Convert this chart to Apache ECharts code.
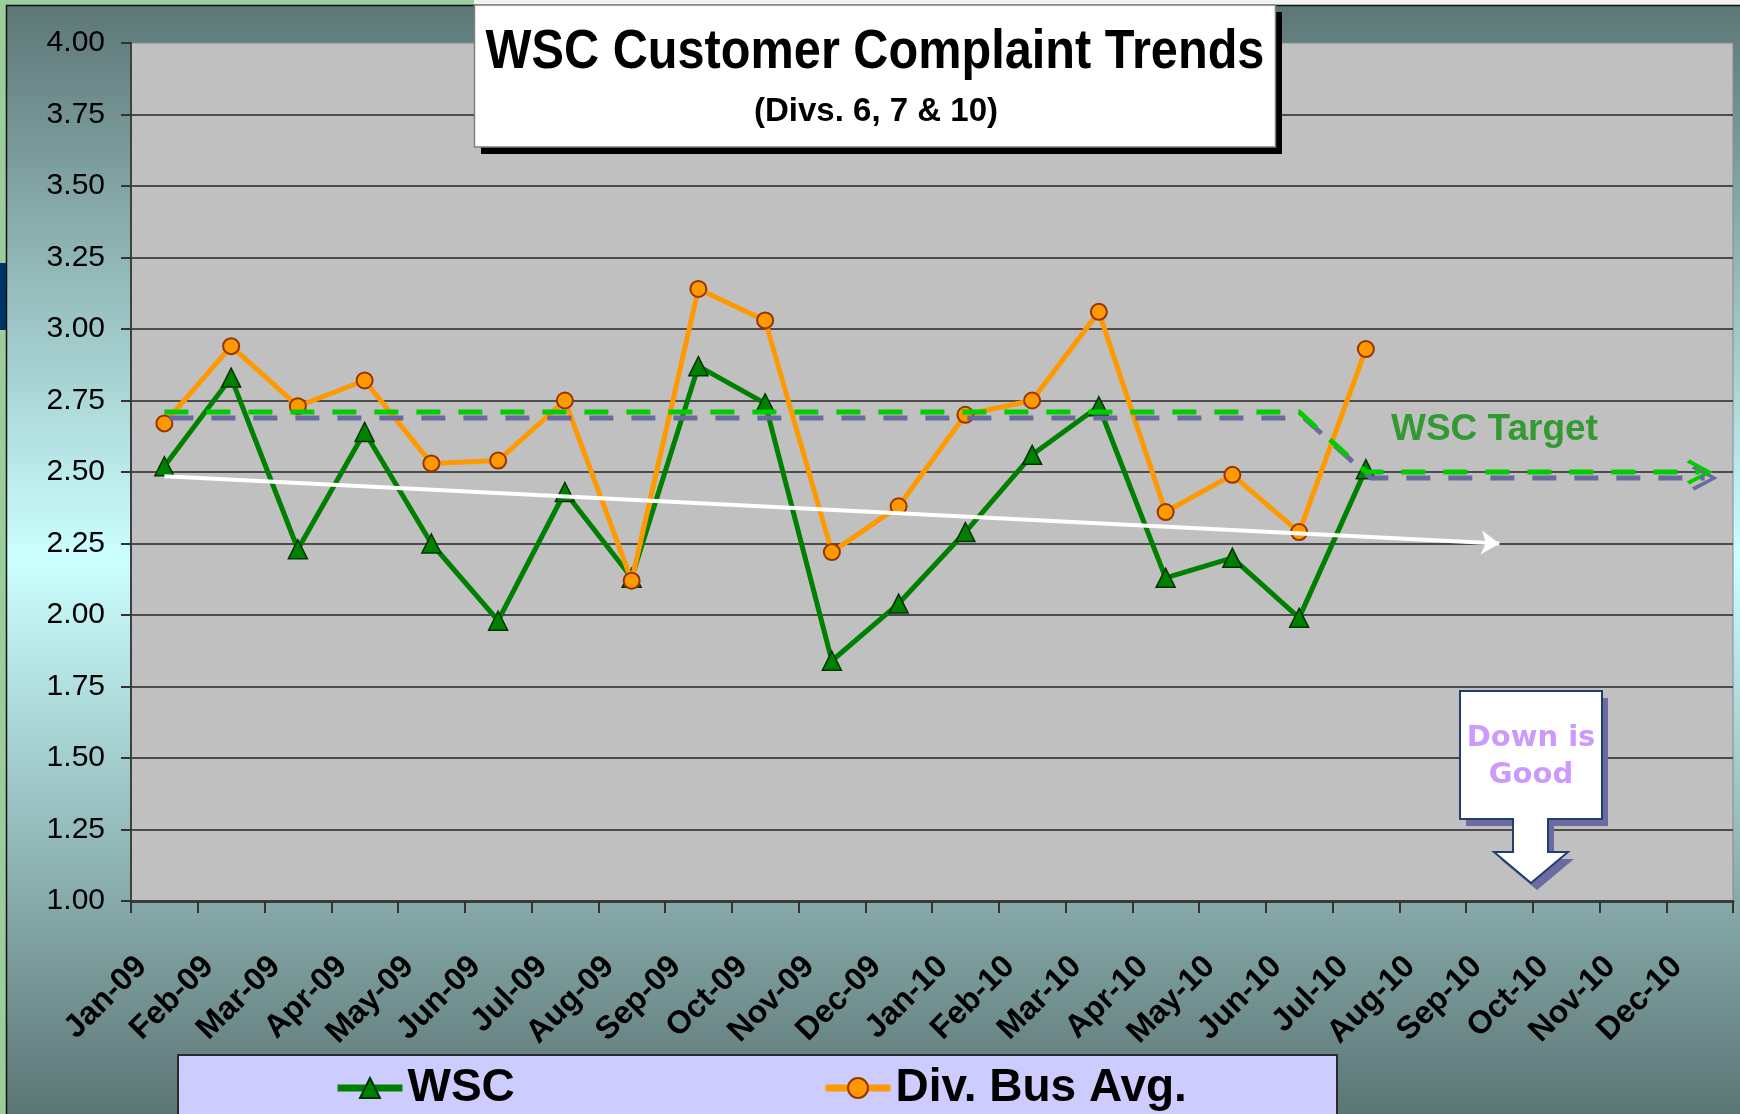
<!DOCTYPE html>
<html>
<head>
<meta charset="utf-8">
<title>WSC Customer Complaint Trends</title>
<script src="https://cdn.jsdelivr.net/npm/echarts@6/dist/echarts.min.js"></script>
<style>
  html, body { margin: 0; padding: 0; background: #fff; }
  #chart { width: 1740px; height: 1114px; }
</style>
</head>
<body>
<div id="chart"></div>
<script>
// month categories, Jan-09 .. Dec-10
const months = [
  'Jan-09', 'Feb-09', 'Mar-09', 'Apr-09', 'May-09', 'Jun-09',
  'Jul-09', 'Aug-09', 'Sep-09', 'Oct-09', 'Nov-09', 'Dec-09',
  'Jan-10', 'Feb-10', 'Mar-10', 'Apr-10', 'May-10', 'Jun-10',
  'Jul-10', 'Aug-10', 'Sep-10', 'Oct-10', 'Nov-10', 'Dec-10'
];

// complaint rates (only up to Jul-10 reported)
const wscValues = [
  2.52, 2.83, 2.23, 2.64, 2.25, 1.98, 2.43, 2.13, 2.87, 2.74, 1.84, 2.04,
  2.29, 2.56, 2.73, 2.13, 2.20, 1.99, 2.51, null, null, null, null, null
];
const divAvgValues = [
  2.67, 2.94, 2.73, 2.82, 2.53, 2.54, 2.75, 2.12, 3.14, 3.03, 2.22, 2.38,
  2.70, 2.75, 3.06, 2.36, 2.49, 2.29, 2.93, null, null, null, null, null
];

// target: 2.71 through Jun-10, then 2.50
const targetValues = [
  2.71, 2.71, 2.71, 2.71, 2.71, 2.71, 2.71, 2.71, 2.71, 2.71, 2.71, 2.71,
  2.71, 2.71, 2.71, 2.71, 2.71, 2.71, 2.50, 2.50, 2.50, 2.50, 2.50, 2.50
];

// white trend arrow
const trendStart = ['Jan-09', 2.485];
const trendEnd = ['Sep-10', 2.25];

// y axis scale
const yMin = 1;
const yMax = 4;
const yStep = 0.25;

const FONT = '"Liberation Sans", Arial, sans-serif';
const chevron = 'path://M0,3 L3,0 L26,12.5 L3,25 L0,22 L19,12.5 Z';

const chart = echarts.init(document.getElementById('chart'));

const option = {
  animation: false,
  backgroundColor: {
    type: 'linear', x: 0, y: 0, x2: 0, y2: 1,
    colorStops: [
      { offset: 0, color: '#5c7575' },
      { offset: 0.5, color: '#ccffff' },
      { offset: 1, color: '#5c7575' }
    ]
  },
  grid: {
    left: 131, right: 7, top: 43, bottom: 213,
    show: true,
    backgroundColor: '#c0c0c0',
    borderColor: '#8a8a8a',
    borderWidth: 1
  },
  legend: [
    {
      data: ['WSC'],
      left: 334, top: 1065, padding: 0,
      itemWidth: 65, itemHeight: 25,
      lineStyle: { width: 7 },
      textStyle: { fontSize: 46, fontWeight: 'bold', color: '#000', fontFamily: FONT, lineHeight: 46 }
    },
    {
      data: ['Div. Bus Avg.'],
      left: 822, top: 1065, padding: 0,
      itemWidth: 65, itemHeight: 25,
      lineStyle: { width: 7 },
      textStyle: { fontSize: 46, fontWeight: 'bold', color: '#000', fontFamily: FONT, lineHeight: 46 }
    }
  ],
  xAxis: {
    type: 'category',
    data: months,
    boundaryGap: true,
    axisLine: { lineStyle: { color: '#3a3a3a', width: 3 } },
    axisTick: { show: true, length: 12, lineStyle: { color: '#333', width: 2 } },
    axisLabel: {
      interval: 0,
      rotate: 45,
      margin: 38,
      padding: [0, 32, 0, 0],
      color: '#000',
      fontSize: 32,
      fontWeight: 'bold',
      fontFamily: FONT
    },
    splitLine: { show: false }
  },
  yAxis: {
    type: 'value',
    min: yMin,
    max: yMax,
    interval: yStep,
    axisLine: { show: true, lineStyle: { color: '#404040', width: 2 } },
    axisTick: { show: true, length: 10, lineStyle: { color: '#333', width: 2 } },
    axisLabel: {
      margin: 26,
      color: '#000',
      fontSize: 30,
      fontFamily: FONT,
      formatter: v => v.toFixed(2)
    },
    splitLine: { showMaxLine: false, lineStyle: { color: '#262626', width: 1.5 } }
  },
  series: [
    {
      name: 'WSC',
      type: 'line',
      data: wscValues,
      symbol: 'triangle',
      symbolSize: 19,
      lineStyle: { color: '#008000', width: 5 },
      itemStyle: { color: '#008000', borderColor: '#003300', borderWidth: 1.5 },
      z: 3
    },
    {
      name: 'Div. Bus Avg.',
      type: 'line',
      data: divAvgValues,
      symbol: 'circle',
      symbolSize: 16,
      lineStyle: { color: '#ff9900', width: 5 },
      itemStyle: { color: '#ff9900', borderColor: '#993300', borderWidth: 2 },
      z: 4
    },
    {
      name: 'WSC Target',
      type: 'line',
      data: targetValues,
      symbol: 'none',
      silent: true,
      lineStyle: {
        color: '#00cc00', width: 5, type: [24, 18],
        shadowColor: '#6a6a9e', shadowOffsetX: 5, shadowOffsetY: 6, shadowBlur: 0
      },
      markPoint: {
        silent: true,
        symbol: chevron,
        symbolSize: [26, 25],
        label: { show: false },
        itemStyle: { color: '#00cc00', shadowColor: '#6a6a9e', shadowOffsetX: 5, shadowOffsetY: 6, shadowBlur: 0 },
        data: [{ coord: [months[months.length - 1], targetValues[targetValues.length - 1]] }]
      },
      z: 5
    },
    {
      name: 'Trend',
      type: 'lines',
      coordinateSystem: 'cartesian2d',
      silent: true,
      symbol: ['none', 'arrow'],
      symbolSize: 18,
      lineStyle: { color: '#ffffff', width: 4, opacity: 1, curveness: 0 },
      data: [{ coords: [trendStart, trendEnd] }],
      z: 6
    }
  ],
  graphic: [
    // slide frame bits
    { type: 'rect', shape: { x: 0, y: 0, width: 6, height: 1114 }, style: { fill: '#9ccc9c' }, z: 0 },
    { type: 'rect', shape: { x: 0, y: 0, width: 474, height: 5 }, style: { fill: '#9ccc9c' }, z: 0 },
    { type: 'rect', shape: { x: 474, y: 0, width: 1266, height: 5 }, style: { fill: '#f2f2f2' }, z: 0 },
    { type: 'rect', shape: { x: 0, y: 263, width: 6, height: 67 }, style: { fill: '#003366' }, z: 0 },
    { type: 'polyline', shape: { points: [[6.5, 1114], [6.5, 5.5], [1740, 5.5]] }, style: { stroke: '#111', lineWidth: 1.5, fill: null }, z: 0 },

    // legend box
    { type: 'rect', shape: { x: 178, y: 1055, width: 1159, height: 60 }, style: { fill: '#ccccff', stroke: '#2a2a2a', lineWidth: 2 }, z: 1 },

    // title box
    {
      type: 'group', z: 100,
      children: [
        { type: 'rect', z: 100, shape: { x: 481, y: 12, width: 801, height: 142 }, style: { fill: '#000' } },
        { type: 'rect', z: 101, shape: { x: 474.5, y: 5, width: 801, height: 142 }, style: { fill: '#fff', stroke: '#7f7f7f', lineWidth: 1.5 } },
        {
          type: 'text', z: 102, x: 875, y: 53, scaleX: 0.885,
          style: {
            text: 'WSC Customer Complaint Trends', x: 0, y: 0,
            textAlign: 'center', textVerticalAlign: 'middle', align: 'center', verticalAlign: 'middle',
            font: 'bold 55px ' + FONT, fill: '#000'
          }
        },
        {
          type: 'text', z: 102, x: 876, y: 112,
          style: {
            text: '(Divs. 6, 7 & 10)', x: 0, y: 0,
            textAlign: 'center', textVerticalAlign: 'middle', align: 'center', verticalAlign: 'middle',
            font: 'bold 33px ' + FONT, fill: '#000'
          }
        }
      ]
    },

    // target label
    {
      type: 'text', z: 100, x: 1391, y: 430,
      style: {
        text: 'WSC Target', x: 0, y: 0,
        textAlign: 'left', textVerticalAlign: 'middle', align: 'left', verticalAlign: 'middle',
        font: 'bold 37px ' + FONT, fill: '#339933'
      }
    },

    // "Down is Good" callout
    {
      type: 'polygon', z: 100, x: 6, y: 7,
      shape: { points: [[1460, 691], [1602, 691], [1602, 819], [1548, 819], [1548, 852], [1568, 852], [1531, 883], [1494, 852], [1513, 852], [1513, 819], [1460, 819]] },
      style: { fill: '#6b6b9f' }
    },
    {
      type: 'polygon', z: 101,
      shape: { points: [[1460, 691], [1602, 691], [1602, 819], [1548, 819], [1548, 852], [1568, 852], [1531, 883], [1494, 852], [1513, 852], [1513, 819], [1460, 819]] },
      style: { fill: '#ffffff', stroke: '#1f3f6f', lineWidth: 2 }
    },
    {
      type: 'text', z: 102, x: 1531, y: 757,
      style: {
        text: 'Down is\nGood', x: 0, y: 0,
        textAlign: 'center', textVerticalAlign: 'middle', align: 'center', verticalAlign: 'middle',
        font: 'bold 29px "DejaVu Sans", sans-serif', lineHeight: 37, fill: '#cc99ff'
      }
    }
  ]
};

chart.setOption(option);
</script>
</body>
</html>
